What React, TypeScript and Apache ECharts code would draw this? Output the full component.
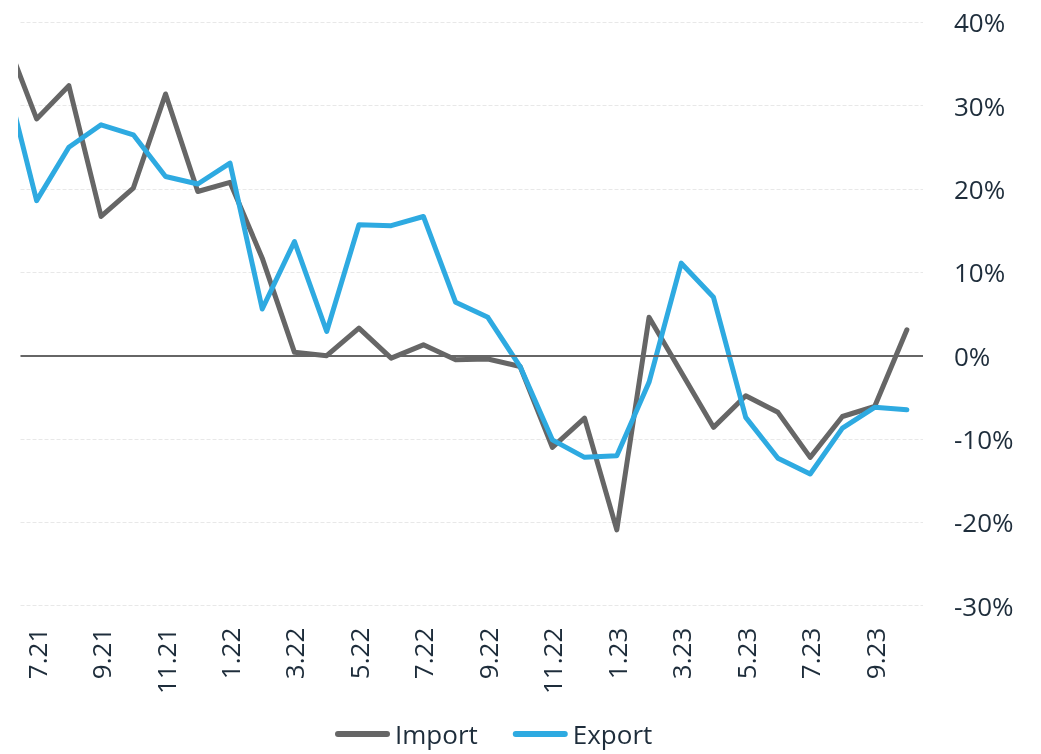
import React, { useEffect, useRef } from "react";
import * as echarts from "echarts";

const months = [
  "6.21", "7.21", "8.21", "9.21", "10.21", "11.21", "12.21",
  "1.22", "2.22", "3.22", "4.22", "5.22", "6.22", "7.22", "8.22", "9.22", "10.22", "11.22", "12.22",
  "1.23", "2.23", "3.23", "4.23", "5.23", "6.23", "7.23", "8.23", "9.23", "10.23",
];

const importVals = [
  38.5, 28.4, 32.4, 16.7, 20.1, 31.4, 19.7,
  20.8, 11.7, 0.4, 0.0, 3.3, -0.3, 1.3, -0.5, -0.4, -1.3, -11.0, -7.5,
  -20.9, 4.6, -2.0, -8.6, -4.8, -6.8, -12.2, -7.3, -6.1, 3.1,
];

const exportVals = [
  34.0, 18.6, 25.0, 27.7, 26.5, 21.5, 20.6,
  23.1, 5.6, 13.7, 2.9, 15.7, 15.6, 16.7, 6.4, 4.6, -1.3, -10.1, -12.2,
  -12.0, -3.2, 11.1, 7.0, -7.4, -12.3, -14.2, -8.7, -6.2, -6.5,
];

const labelIdx = [1, 3, 5, 7, 9, 11, 13, 15, 17, 19, 21, 23, 25, 27];

const FONT = "'Open Sans', 'Noto Sans', sans-serif";
const TEXT = "#1e2d3b";
const ICON = "path://M3,0 L52,0 A3,3 0 0 1 52,6 L3,6 A3,3 0 0 1 3,0 Z";

export default function App() {
  const ref = useRef<HTMLDivElement>(null);
  useEffect(() => {
    if (!ref.current) return;
    const chart = echarts.init(ref.current, null, { renderer: "svg" });
    chart.setOption({
      animation: false,
      textStyle: { fontFamily: FONT },
      grid: { left: 20.5, right: 118, top: 22.3, bottom: 148.3, outerBoundsMode: "none" },
      legend: {
        left: 335,
        top: 721,
        padding: 0,
        itemWidth: 55,
        itemHeight: 6,
        itemGap: 35,
        icon: ICON,
        textStyle: { fontSize: 26, lineHeight: 26, color: TEXT, fontFamily: FONT },
        data: ["Import", "Export"],
      },
      xAxis: {
        type: "value",
        min: 0.5,
        max: 28.5,
        axisLine: { show: false },
        axisTick: { show: false },
        splitLine: { show: false },
        axisLabel: {
          customValues: labelIdx,
          rotate: 90,
          margin: 22,
          fontSize: 26,
          color: TEXT,
          fontFamily: FONT,
          formatter: (v: number) => months[Math.round(v)] ?? "",
        },
      },
      yAxis: {
        type: "value",
        position: "right",
        min: -30,
        max: 40,
        interval: 10,
        axisLine: { show: false },
        axisTick: { show: false },
        axisLabel: {
          margin: 31,
          fontSize: 26,
          color: TEXT,
          fontFamily: FONT,
          formatter: "{value}%",
        },
        splitLine: { lineStyle: { color: "#e8e8e8", width: 1, type: [4, 2] } },
      },
      series: [
        {
          name: "Import",
          type: "line",
          data: importVals.map((v, i) => [i, v]),
          symbol: "none",
          color: "#666666",
          lineStyle: { width: 5, color: "#666666", cap: "round", join: "round" },
          clip: true,
          z: 3,
          markLine: {
            silent: true,
            symbol: "none",
            label: { show: false },
            lineStyle: { color: "#666666", width: 2, type: "solid" },
            data: [{ yAxis: 0 }],
          },
        },
        {
          name: "Export",
          type: "line",
          data: exportVals.map((v, i) => [i, v]),
          symbol: "none",
          color: "#2eaae1",
          lineStyle: { width: 5, color: "#2eaae1", cap: "round", join: "round" },
          clip: true,
          z: 4,
        },
      ],
    });
    return () => chart.dispose();
  }, []);
  return (
    <div
      ref={ref}
      style={{ position: "fixed", left: 0, top: 0, width: 1041, height: 754 }}
    />
  );
}
